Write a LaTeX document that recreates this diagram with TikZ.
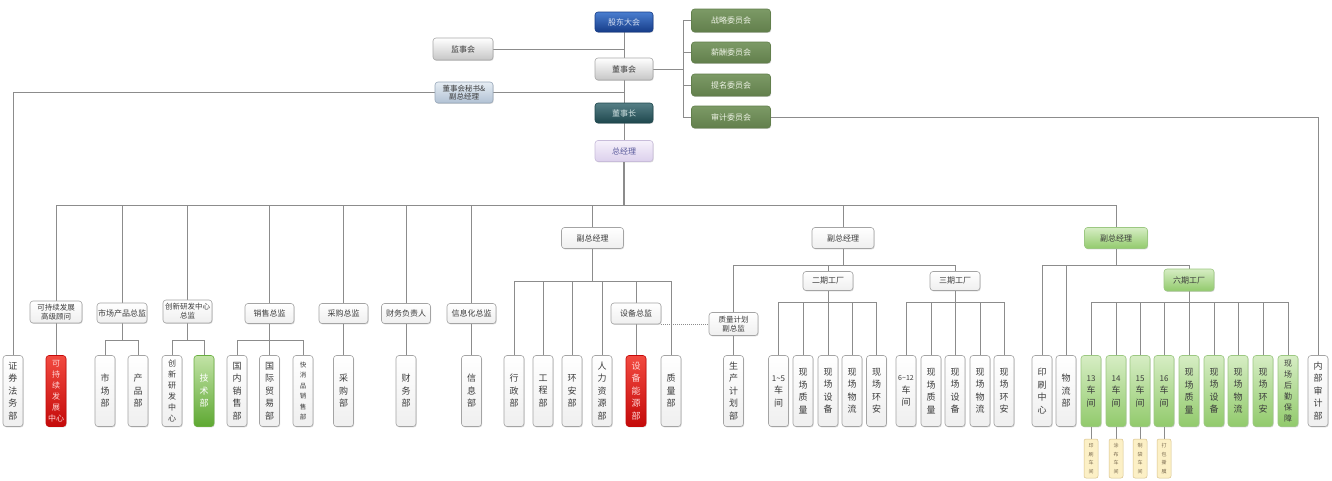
\documentclass[tikz,border=0pt]{standalone}
\usepackage{fontspec}
\setmainfont{Noto Sans CJK SC}
\usetikzlibrary{shadows}
\pgfdeclarelayer{bg}
\pgfsetlayers{bg,main}
\definecolor{linec}{HTML}{8C8C8C}
\definecolor{bordc}{HTML}{A4A4A4}
\definecolor{wB}{HTML}{EFEFEF}
\definecolor{txt}{HTML}{3C3C3C}
\definecolor{blueT}{HTML}{4A7ED0}
\definecolor{blueB}{HTML}{163C88}
\definecolor{blueTx}{HTML}{D8E2F4}
\definecolor{tealT}{HTML}{567F86}
\definecolor{tealB}{HTML}{1E474D}
\definecolor{tealTx}{HTML}{CFE0E0}
\definecolor{greyB}{HTML}{C6C6C6}
\definecolor{greyD}{HTML}{A8A8A8}
\definecolor{secT}{HTML}{E6EDF4}
\definecolor{secB}{HTML}{B2C2D4}
\definecolor{secD}{HTML}{98A8BA}
\definecolor{lavT}{HTML}{F6F1FB}
\definecolor{lavB}{HTML}{DCD0EC}
\definecolor{lavD}{HTML}{C8BCDA}
\definecolor{lavTx}{HTML}{5A5A9C}
\definecolor{oliveT}{HTML}{7C9A66}
\definecolor{oliveB}{HTML}{627F4C}
\definecolor{oliveTx}{HTML}{EEF3E6}
\definecolor{redT}{HTML}{F24A40}
\definecolor{redB}{HTML}{C40A0A}
\definecolor{redTx}{HTML}{FFD6D6}
\definecolor{grT}{HTML}{D6EDC4}
\definecolor{grB}{HTML}{92CA6C}
\definecolor{grD}{HTML}{9CC882}
\definecolor{gr2T}{HTML}{C2E3A6}
\definecolor{gr2B}{HTML}{5EA832}
\definecolor{gr2D}{HTML}{6AAE40}
\definecolor{ylF}{HTML}{FCF0C6}
\definecolor{ylD}{HTML}{D9C28A}
\definecolor{ylTx}{HTML}{7A6A50}
\newcommand\vbx[4][]{\node[vbox,#1] (#2) at (#3,391) {#4};}
\newcommand\fan[4]{%
  \draw[conn] (#1.south) -- (#1.south |- #2);
  \draw[conn] (#3.north |- #2) -- (#4.north |- #2);}
\newcommand\drops[2]{\foreach \c in {#2} {\draw[conn] (\c.north) -- (\c.north |- #1);}}
\begin{document}
\begin{tikzpicture}[x=1pt,y=-1pt,
  conn/.style={draw=linec, line width=1pt},
  base/.style={rounded corners=3pt, inner sep=0pt, align=center, line width=0.6pt,
    font=\fontsize{8}{9}\selectfont,
    drop shadow={shadow xshift=0.7pt, shadow yshift=-0.9pt, opacity=0.3}},
  wc/.style={draw=bordc, top color=white, bottom color=wB, text=txt},
  greyc/.style={draw=greyD, top color=white, bottom color=greyB, text=txt},
  bluec/.style={draw=blueB, top color=blueT, bottom color=blueB, text=blueTx},
  tealc/.style={draw=tealB, top color=tealT, bottom color=tealB, text=tealTx},
  secc/.style={draw=secD, top color=secT, bottom color=secB, text=txt},
  lavc/.style={draw=lavD, top color=lavT, bottom color=lavB, text=lavTx},
  olc/.style={draw=oliveB, top color=oliveT, bottom color=oliveB, text=oliveTx},
  redc/.style={draw=redB, top color=redT, bottom color=redB, text=redTx},
  grc/.style={draw=grD, top color=grT, bottom color=grB, text=txt},
  gr2c/.style={draw=gr2D, top color=gr2T, bottom color=gr2B, text=white},
  box/.style={base, wc},
  vbox/.style={base, wc, minimum width=20pt, minimum height=71pt, font=\fontsize{9}{12.5}\selectfont},
  six/.style={font=\fontsize{8}{11}\selectfont},
  ybox/.style={rounded corners=2pt, inner sep=0pt, align=center, draw=ylD, line width=0.5pt, fill=ylF,
    text=ylTx, minimum width=14pt, minimum height=39pt, font=\fontsize{5}{8.5}\selectfont},
]
\useasboundingbox (0,0) rectangle (1332,480);

% ---- top ----
\node[base, bluec, minimum width=58pt, minimum height=20pt] (gd) at (624,22) {股东大会};
\node[base, greyc, minimum width=60pt, minimum height=22pt] (jsh) at (463,49) {监事会};
\node[base, greyc, minimum width=58pt, minimum height=22pt] (dsh) at (624,69) {董事会};
\node[base, secc, minimum width=58pt, minimum height=21pt, font=\fontsize{7.5}{8.5}\selectfont] (msg) at (464,92.5) {董事会秘书\&\\副总经理};
\node[base, tealc, minimum width=58pt, minimum height=20pt] (dsz) at (624,113) {董事长};
\node[base, lavc, minimum width=58pt, minimum height=21pt] (zjl) at (624,151) {总经理};
\node[base, olc, minimum width=79pt, minimum height=23pt] (zl) at (731,20.5) {战略委员会};
\node[base, olc, minimum width=79pt, minimum height=21pt] (xc) at (731,52.5) {薪酬委员会};
\node[base, olc, minimum width=79pt, minimum height=22pt] (tm) at (731,85) {提名委员会};
\node[base, olc, minimum width=79pt, minimum height=22pt] (sj) at (731,117) {审计委员会};
\coordinate (cb) at (683,69);
\coordinate (bus) at (0,205);
\coordinate (b1) at (0,281);
\coordinate (b2) at (0,265);
\coordinate (b3) at (0,302);
\coordinate (b4) at (0,340);

% ---- level 2 ----
\node[box, minimum width=52pt, minimum height=22pt, font=\fontsize{7.5}{9}\selectfont] (kc) at (56,312) {可持续发展\\高级顾问};
\node[box, minimum width=50pt, minimum height=20pt] (sc) at (122,313) {市场产品总监};
\node[box, minimum width=49pt, minimum height=23pt, font=\fontsize{7.5}{9}\selectfont] (cx) at (187.5,311.5) {创新研发中心\\总监};
\node[box, minimum width=49pt, minimum height=20pt] (xs) at (269.5,313.5) {销售总监};
\node[box, minimum width=49pt, minimum height=20pt] (cg) at (343.5,313.5) {采购总监};
\node[box, minimum width=49pt, minimum height=20pt] (cw) at (406,313.5) {财务负责人};
\node[box, minimum width=49pt, minimum height=20pt] (xx) at (471.5,313.5) {信息化总监};
\node[box, minimum width=62pt, minimum height=21pt] (vp1) at (592.5,238) {副总经理};
\node[box, minimum width=62pt, minimum height=21pt] (vp2) at (843,238) {副总经理};
\node[base, grc, minimum width=63pt, minimum height=21pt] (vp3) at (1116,238) {副总经理};
\node[box, minimum width=50pt, minimum height=21pt] (sbz) at (636,313.5) {设备总监};
\node[box, minimum width=49pt, minimum height=23pt, font=\fontsize{7.5}{9}\selectfont] (zljh) at (733.5,324) {质量计划\\副总监};
\node[box, minimum width=50pt, minimum height=19pt] (eq) at (828,281) {二期工厂};
\node[box, minimum width=50pt, minimum height=19pt] (sq) at (955,281) {三期工厂};
\node[base, grc, minimum width=50pt, minimum height=22pt] (lq) at (1189,280) {六期工厂};

% ---- bottom ----
\vbx{zq}{13}{证\\券\\法\\务\\部}
\vbx[redc,six]{kcz}{56}{可\\持\\续\\发\\展\\中心}
\vbx{scb}{105}{市\\场\\部}
\vbx{cpb}{138}{产\\品\\部}
\vbx[six]{cxz}{172}{创\\新\\研\\发\\中\\心}
\vbx[gr2c]{jsb}{204}{技\\术\\部}
\vbx{gn}{237}{国\\内\\销\\售\\部}
\vbx{gj}{269.5}{国\\际\\贸\\易\\部}
\vbx[font=\fontsize{6.5}{10.5}\selectfont]{kx}{303}{快\\消\\品\\销\\售\\部}
\vbx{cgb}{343.5}{采\\购\\部}
\vbx{cwb}{406}{财\\务\\部}
\vbx{xxb}{471.5}{信\\息\\部}
\vbx{xzb}{514}{行\\政\\部}
\vbx{gcb}{543}{工\\程\\部}
\vbx{hab}{572}{环\\安\\部}
\vbx{rlb}{602}{人\\力\\资\\源\\部}
\vbx[redc]{sbny}{636}{设\\备\\能\\源\\部}
\vbx{zlb}{671}{质\\量\\部}
\vbx{scjh}{733.5}{生\\产\\计\\划\\部}
\vbx{e1}{778.5}{{\fontsize{8}{9}\selectfont 1\textasciitilde5}\\车\\间}
\vbx{e2}{803}{现\\场\\质\\量}
\vbx{e3}{828}{现\\场\\设\\备}
\vbx{e4}{852}{现\\场\\物\\流}
\vbx{e5}{876.5}{现\\场\\环\\安}
\vbx{s1}{906}{{\fontsize{7}{9}\selectfont 6\textasciitilde12}\\车\\间}
\vbx{s2}{931}{现\\场\\质\\量}
\vbx{s3}{955}{现\\场\\设\\备}
\vbx{s4}{980}{现\\场\\物\\流}
\vbx{s5}{1004}{现\\场\\环\\安}
\vbx{ys}{1042}{印\\刷\\中\\心}
\vbx{wl}{1066}{物\\流\\部}
\vbx[grc]{c13}{1091}{{\fontsize{8}{9}\selectfont 13}\\车\\间}
\vbx[grc]{c14}{1116}{{\fontsize{8}{9}\selectfont 14}\\车\\间}
\vbx[grc]{c15}{1140}{{\fontsize{8}{9}\selectfont 15}\\车\\间}
\vbx[grc]{c16}{1164}{{\fontsize{8}{9}\selectfont 16}\\车\\间}
\vbx[grc]{l1}{1189}{现\\场\\质\\量}
\vbx[grc]{l2}{1214}{现\\场\\设\\备}
\vbx[grc]{l3}{1238}{现\\场\\物\\流}
\vbx[grc]{l4}{1263}{现\\场\\环\\安}
\vbx[grc,six]{l5}{1288}{现\\场\\后\\勤\\保\\障}
\vbx{nb}{1318}{内\\部\\审\\计\\部}

\node[ybox] (y1) at (1091,458.5) {印\\刷\\车\\间};
\node[ybox] (y2) at (1116,458.5) {涂\\布\\车\\间};
\node[ybox] (y3) at (1140,458.5) {制\\袋\\车\\间};
\node[ybox] (y4) at (1164,458.5) {打\\包\\撕\\膜};

% ---- connectors ----
\begin{pgfonlayer}{bg}
\fill[white] (0,0) rectangle (1332,480);
\draw[conn] (gd.south) -- (dsh.north);
\draw[conn] (dsh.south) -- (dsz.north);
\draw[conn] (dsz.south) -- (zjl.north);
\draw[conn, line width=1.8pt] (zjl.south) -- (zjl.south |- bus);
\draw[conn] (jsh.east) -- (jsh.east -| gd.south);
\draw[conn] (msg.east) -- (msg.east -| gd.south);
\draw[conn] (msg.west) -| (zq.north);
\draw[conn] (dsh.east) -- (cb);
\draw[conn] (zl.west) -| (sj.west -| cb) -- (sj.west);
\draw[conn] (xc.west) -- (xc.west -| cb);
\draw[conn] (tm.west) -- (tm.west -| cb);
\draw[conn] (sj.east) -| (nb.north);
\draw[conn] (kc.north |- bus) -- (vp3.north |- bus);
\drops{bus}{kc,sc,cx,xs,cg,cw,xx,vp1,vp2,vp3}
\draw[conn] (kc.south) -- (kcz.north);
\fan{sc}{b4}{scb}{cpb}\drops{b4}{scb,cpb}
\fan{cx}{b4}{cxz}{jsb}\drops{b4}{cxz,jsb}
\fan{xs}{b4}{gn}{kx}\drops{b4}{gn,gj,kx}
\draw[conn] (cg.south) -- (cgb.north);
\draw[conn] (cw.south) -- (cwb.north);
\draw[conn] (xx.south) -- (xxb.north);
\fan{vp1}{b1}{xzb}{zlb}\drops{b1}{xzb,gcb,hab,rlb,sbz,zlb}
\draw[conn] (sbz.south) -- (sbny.north);
\draw[conn, dash pattern=on 1pt off 1pt] (zljh.west -| sbz.east) -- (zljh.west);
\fan{vp2}{b2}{zljh}{sq}\drops{b2}{zljh,eq,sq}
\draw[conn] (zljh.south) -- (scjh.north);
\fan{eq}{b3}{e1}{e5}\drops{b3}{e1,e2,e3,e4,e5}
\fan{sq}{b3}{s1}{s5}\drops{b3}{s1,s2,s3,s4,s5}
\fan{vp3}{b2}{ys}{lq}\drops{b2}{ys,wl,lq}
\fan{lq}{b3}{c13}{l5}\drops{b3}{c13,c14,c15,c16,l1,l2,l3,l4,l5}
\draw[conn] (c13.south) -- (y1.north);
\draw[conn] (c14.south) -- (y2.north);
\draw[conn] (c15.south) -- (y3.north);
\draw[conn] (c16.south) -- (y4.north);
\end{pgfonlayer}
\end{tikzpicture}
\end{document}
